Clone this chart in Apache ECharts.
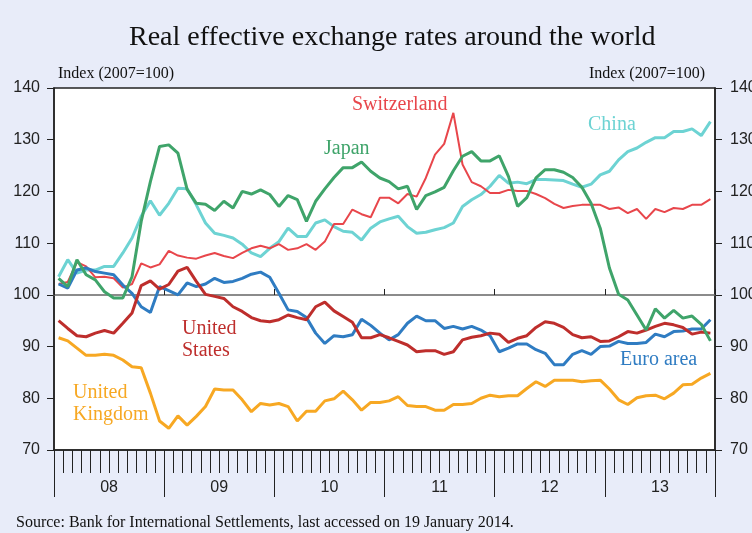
<!DOCTYPE html>
<html>
<head>
<meta charset="utf-8">
<script src="https://cdn.jsdelivr.net/npm/echarts@6/dist/echarts.min.js"></script>
<style>
  html, body { margin: 0; padding: 0; background: #E8ECF9; }
  #main { width: 752px; height: 533px; }
</style>
</head>
<body>
<div id="main"></div>
<script>
   // monthly data, Jan 2008 - Dec 2013, index 2007=100
   var years = ['08', '09', '10', '11', '12', '13'];
   var months = [];
   for (var y = 0; y < years.length; y++) {
       for (var m = 1; m <= 12; m++) {
           months.push(years[y] + '-' + (m < 10 ? '0' + m : m));
       }
   }

   var japan = [103.2,101.6,106.8,103.9,102.9,100.6,99.4,99.4,103.5,114.2,121.9,128.7,
                129.0,127.4,120.4,117.7,117.5,116.3,118.1,116.8,120.0,119.5,120.3,119.4,
                117.1,119.2,118.4,114.2,118.1,120.5,122.7,124.6,124.6,125.7,123.9,122.6,
                121.9,120.5,121.0,116.5,119.2,119.9,120.8,124.0,126.8,127.7,125.9,125.9,
                126.9,122.9,117.1,118.8,122.6,124.2,124.2,123.7,122.7,120.8,117.7,112.9,
                105.2,100.1,99.0,96.1,93.2,97.3,95.5,97.0,95.5,95.9,94.3,91.1];
   var china = [103.5,106.8,104.2,104.8,104.8,105.5,105.5,108.1,111.0,115.2,118.2,115.4,
                117.7,120.6,120.5,117.4,113.9,111.9,111.5,111.0,109.8,108.1,107.4,109.0,
                110.3,112.9,111.3,111.3,113.9,114.5,113.2,112.3,112.1,110.6,112.9,114.1,
                114.7,115.2,113.2,111.9,112.1,112.6,113.0,113.9,117.1,118.4,119.4,121.0,
                123.1,121.6,121.8,121.5,122.3,122.3,122.2,122.1,121.4,120.8,121.4,123.2,
                123.9,126.1,127.7,128.4,129.5,130.4,130.4,131.6,131.6,132.1,130.8,133.5];
   var swiss = [102.1,102.5,106.3,105.5,103.4,103.5,103.2,101.4,102.1,106.1,105.3,105.9,
                108.5,107.6,107.2,107.0,107.6,108.1,107.5,107.1,108.1,109.0,109.5,109.0,
                109.8,108.7,109.0,109.8,108.7,110.3,113.7,113.7,116.5,115.6,115.0,118.8,
                118.8,117.7,119.5,119.0,122.6,127.1,129.2,135.2,125.2,121.8,121.0,119.7,
                119.7,120.3,120.1,120.1,119.5,118.7,117.6,116.8,117.2,117.4,117.4,117.4,
                116.6,116.9,115.8,116.6,114.7,116.6,116.0,116.8,116.6,117.4,117.4,118.5];
   var us    = [95.0,93.5,92.1,91.9,92.6,93.1,92.6,94.5,96.5,101.8,102.7,101.1,
                102.0,104.6,105.3,102.6,100.1,99.7,99.3,97.7,96.8,95.6,95.0,94.8,
                95.2,96.1,95.6,95.2,97.7,98.6,96.9,95.8,94.7,91.7,91.7,92.3,
                91.7,91.0,90.3,89.0,89.2,89.2,88.5,89.0,91.3,91.8,92.1,92.6,
                92.4,90.8,91.6,92.1,93.7,94.8,94.5,93.7,92.3,91.7,91.9,91.0,
                91.1,91.9,92.9,92.6,93.2,93.9,94.5,94.2,93.7,92.4,92.8,92.6];
   var euro  = [102.1,101.3,104.8,105.2,104.5,104.2,103.9,101.9,100.3,97.7,96.6,101.6,
                100.8,100.0,102.3,101.6,102.1,103.2,102.4,102.6,103.2,104.0,104.4,103.4,
                100.3,97.1,96.8,95.6,92.6,90.6,92.1,91.9,92.3,95.3,94.1,92.6,
                91.3,92.3,94.5,95.9,95.0,95.0,93.5,93.9,93.4,93.9,93.2,92.1,
                89.0,89.7,90.5,90.5,89.4,88.7,86.5,86.5,88.5,89.2,88.5,90.0,
                90.1,91.0,90.6,90.6,90.8,92.4,91.9,92.9,93.0,93.4,93.4,95.2];
   var uk    = [91.7,91.1,89.7,88.3,88.3,88.5,88.3,87.4,86.1,85.9,81.0,75.6,
                74.2,76.6,74.8,76.5,78.4,81.8,81.6,81.6,79.7,77.4,79.0,78.7,
                79.0,78.4,75.6,77.5,77.5,79.5,79.9,81.4,79.7,77.7,79.2,79.2,
                79.5,80.3,78.6,78.4,78.4,77.7,77.7,78.8,78.8,79.0,80.0,80.6,
                80.3,80.5,80.5,81.9,83.2,82.3,83.5,83.5,83.5,83.2,83.4,83.5,
                81.8,79.7,78.8,80.1,80.5,80.6,79.9,81.0,82.6,82.7,83.9,84.8];

   var seriesNames = ['China', 'Switzerland', 'United Kingdom', 'Euro area', 'United States', 'Japan'];
   var seriesData = [china, swiss, uk, euro, us, japan];
   var seriesColors = ['#6DD3D3', '#E8464B', '#F7A823', '#2F7CC2', '#BE2E2C', '#3FA46A'];
   var seriesWidths = [3, 2, 3, 3, 3, 3];

   var sansFont = '"Liberation Sans", Arial, sans-serif';
   var serifFont = '"Liberation Serif", "Times New Roman", serif';

   var chart = echarts.init(document.getElementById('main'));

   var series = [];
   for (var i = 0; i < seriesNames.length; i++) {
       series.push({
           name: seriesNames[i],
           type: 'line',
           xAxisIndex: 0,
           yAxisIndex: 0,
           data: seriesData[i],
           symbol: 'none',
           smooth: false,
           animation: false,
           lineStyle: { color: seriesColors[i], width: seriesWidths[i] },
           z: 3 + i
       });
   }

   function yAxisCfg(pos, margin) {
       return {
           type: 'value',
           position: pos,
           min: 70,
           max: 140,
           interval: 10,
           axisLine: { show: true, lineStyle: { color: '#222', width: 1.5 } },
           axisTick: { show: true, inside: false, length: 7, lineStyle: { color: '#222', width: 1 } },
           axisLabel: { margin: margin, fontSize: 16, color: '#222', fontFamily: sansFont },
           splitLine: { show: false }
       };
   }

   // label text drawn in the plot
   function note(text, x, y, color, align) {
       return {
           type: 'text',
           x: x,
           y: y,
           z: 20,
           style: {
               text: text,
               fill: color,
               font: '20px ' + serifFont,
               lineHeight: 22,
               align: align || 'left',
               verticalAlign: 'top'
           }
       };
   }

   var option = {
       backgroundColor: '#E8ECF9',
       animation: false,
       title: {
           text: 'Real effective exchange rates around the world',
           left: 124,
           top: 19,
           textStyle: { fontFamily: serifFont, fontSize: 28, fontWeight: 'normal', color: '#111' }
       },
       grid: {
           left: 54,
           top: 88,
           width: 661,
           height: 362,
           show: true,
           backgroundColor: '#fff',
           borderColor: '#222',
           borderWidth: 1.5,
           outerBoundsMode: 'none'
       },
       xAxis: [
           {   // months
               type: 'category',
               data: months,
               position: 'bottom',
               boundaryGap: true,
               axisLine: { show: true, lineStyle: { color: '#222', width: 1.5 } },
               axisTick: { show: true, interval: 0, length: 23, lineStyle: { color: '#222', width: 1 } },
               axisLabel: { show: false },
               splitLine: { show: false }
           },
           {   // year labels and long year ticks
               type: 'category',
               data: years,
               position: 'bottom',
               boundaryGap: true,
               axisLine: { show: false },
               axisTick: { show: true, interval: 0, length: 47, lineStyle: { color: '#222', width: 1 } },
               axisLabel: { show: true, margin: 30, fontSize: 16, color: '#222', fontFamily: sansFont },
               splitLine: { show: false }
           },
           {   // the 100 line with year ticks
               type: 'category',
               data: years,
               position: 'bottom',
               offset: -155,
               boundaryGap: true,
               axisLine: { show: true, lineStyle: { color: '#666', width: 1.5 } },
               axisTick: { show: true, inside: true, interval: 0, length: 6, lineStyle: { color: '#222', width: 1 } },
               axisLabel: { show: false },
               splitLine: { show: false },
               z: 2
           }
       ],
       yAxis: [yAxisCfg('left', 14), yAxisCfg('right', 15)],
       graphic: [
           { type: 'text', x: 58, y: 66, style: { text: 'Index (2007=100)', fill: '#111', font: '16px ' + serifFont } },
           { type: 'text', x: 705, y: 66, style: { text: 'Index (2007=100)', fill: '#111', font: '16px ' + serifFont, align: 'right' } },
           { type: 'text', x: 16, y: 515, style: { text: 'Source: Bank for International Settlements, last accessed on 19 January 2014.', fill: '#111', font: '16px ' + serifFont } },
           note('Switzerland', 352, 94, '#E8464B'),
           note('China', 588, 114, '#6DD3D3'),
           note('Japan', 324, 138, '#3FA46A'),
           note('United\nStates', 182, 318, '#BE2E2C'),
           note('United\nKingdom', 73, 382, '#F7A823'),
           note('Euro area', 620, 349, '#2F7CC2')
       ],
       series: series
   };
   chart.setOption(option);
</script>
</body>
</html>
